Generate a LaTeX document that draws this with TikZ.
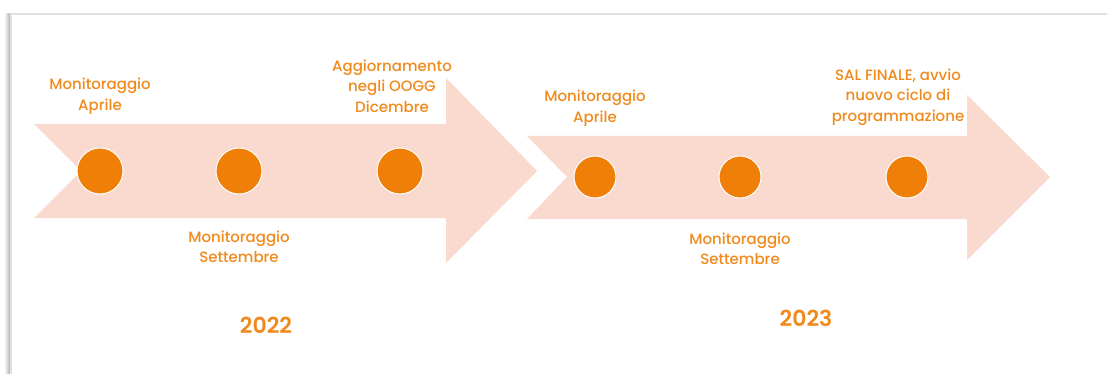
\documentclass[tikz,border=0pt]{standalone}
\usepackage{fontspec}
\setmainfont{Poppins}
\newfontfamily\medfont{Poppins Medium}
\newfontfamily\semifont{Poppins SemiBold}
\usepackage{tikz}
\usetikzlibrary{positioning}

\definecolor{peach}{HTML}{FAD9CF}
\definecolor{dotorange}{HTML}{EF7F06}
\definecolor{txtorange}{HTML}{F08A1C}

\tikzset{
  band/.style={fill=peach, draw=none},
  milestone/.style={circle, fill=dotorange, draw=white, line width=1pt, minimum size=46pt, inner sep=0pt},
  label/.style={align=center, text=txtorange, font=\medfont\fontsize{15}{20.5}\selectfont, inner sep=0pt},
  yearlabel/.style={text=txtorange, font=\semifont\fontsize{22}{26}\selectfont, inner sep=0pt}
}

\begin{document}
\begin{tikzpicture}[x=1pt, y=-1pt]
\useasboundingbox (0,0) rectangle (1107,374);

%Card and shadow
\shade[left color=white, right color=black!35] (4,14) rectangle (11,374);
\draw[black!12, line width=1.5pt, fill=white] (11,14) rectangle (1115,390);

%Arrows
\fill[band] (34,124) -- (446,124) -- (446,78) -- (537,171) -- (446,263) -- (446,218) -- (34,218) -- (81,171) -- cycle;
\fill[band] (527,136) -- (967,136) -- (967,95) -- (1050,177) -- (967,260) -- (967,219) -- (527,219) -- (567,177) -- cycle;

%Milestones 2022
\node[milestone] (apr22) at (100,171) {};
\node[milestone] (set22) at (239,171) {};
\node[milestone] (dic22) at (400,171) {};

%Milestones 2023
\node[milestone, minimum size=42pt] (apr23) at (595,177) {};
\node[milestone, minimum size=42pt] (set23) at (740,177) {};
\node[milestone, minimum size=42pt] (fin23) at (907,177) {};

%Labels
\node[label] (apr22lab) at (100,96) {Monitoraggio\\Aprile};
\node[label] (set22lab) at (239,247) {Monitoraggio\\Settembre};
\node[label] (dic22lab) at (392,86) {Aggiornamento\\negli OOGG\\Dicembre};
\node[label] (apr23lab) at (595,108) {Monitoraggio\\Aprile};
\node[label] (set23lab) at (740,249) {Monitoraggio\\Settembre};
\node[label] (fin23lab) at (898,97) {SAL FINALE, avvio\\nuovo ciclo di\\programmazione};

%Years
\node[yearlabel] (y22) at (266,325) {2022};
\node[yearlabel] (y23) at (806,318) {2023};

\end{tikzpicture}
\end{document}
